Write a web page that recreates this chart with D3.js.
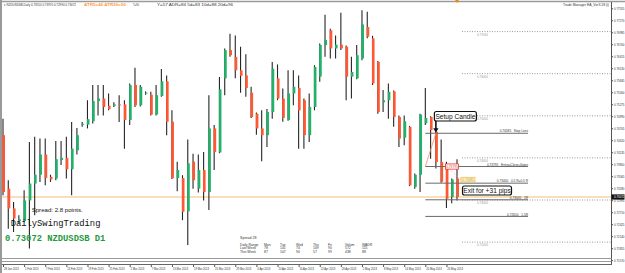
<!DOCTYPE html>
<html>
<head>
<meta charset="utf-8">
<script src="https://cdn.jsdelivr.net/npm/d3@7/dist/d3.min.js"></script>
<style>
  body { margin: 0; background: #fff; }
  svg { display: block; font-family: "Liberation Sans", Arial, sans-serif; }
</style>
</head>
<body>
<div id="chart"></div>
<script>
// daily candles, NZDUSDSB D1
var opens = [0.7454,0.7327,0.7280,0.7250,0.7250,0.7299,0.7339,0.7360,0.7408,0.7355,
             0.7351,0.7395,0.7400,0.7373,0.7418,0.7479,0.7479,0.7487,0.7535,0.7541,
             0.7524,0.7524,0.7527,0.7527,0.7490,0.7573,0.7525,0.7553,0.7550,0.7503,
             0.7547,0.7582,0.7486,0.7352,0.7352,0.7273,0.7391,0.7327,0.7371,0.7319,
             0.7470,0.7413,0.7589,0.7656,0.7640,0.7608,0.7596,0.7555,0.7505,0.7470,
             0.7454,0.7509,0.7589,0.7541,0.7490,0.7553,0.7566,0.7537,0.7454,0.7521,
             0.7593,0.7668,0.7703,0.7660,0.7669,0.7664,0.7593,0.7589,0.7636,0.7711,
             0.7684,0.7628,0.7532,0.7537,0.7558,0.7497,0.7448,0.7474,0.7331,0.7360,
             0.7482,0.7497,0.7462,0.7390,0.7375,0.7307,0.7351];
var highs = [0.7493,0.7347,0.7295,0.7264,0.7323,0.7438,0.7450,0.7446,0.7446,0.7360,
             0.7440,0.7440,0.7450,0.7485,0.7471,0.7485,0.7537,0.7573,0.7573,0.7573,
             0.7553,0.7532,0.7549,0.7537,0.7577,0.7614,0.7573,0.7558,0.7557,0.7573,
             0.7611,0.7596,0.7513,0.7391,0.7359,0.7444,0.7410,0.7408,0.7414,0.7549,
             0.7478,0.7592,0.7660,0.7695,0.7691,0.7664,0.7646,0.7569,0.7508,0.7513,
             0.7516,0.7628,0.7622,0.7565,0.7608,0.7608,0.7596,0.7541,0.7553,0.7620,
             0.7672,0.7740,0.7707,0.7691,0.7745,0.7667,0.7640,0.7668,0.7751,0.7747,
             0.7690,0.7630,0.7561,0.7577,0.7560,0.7501,0.7501,0.7476,0.7363,0.7505,
             0.7566,0.7499,0.7470,0.7444,0.7391,0.7351,0.7397];
var lows  = [0.7311,0.7232,0.7224,0.7244,0.7248,0.7185,0.7264,0.7343,0.7335,0.7343,
             0.7347,0.7383,0.7351,0.7311,0.7408,0.7474,0.7470,0.7482,0.7501,0.7501,
             0.7513,0.7521,0.7485,0.7422,0.7478,0.7521,0.7522,0.7550,0.7501,0.7501,
             0.7545,0.7454,0.7350,0.7321,0.7252,0.7193,0.7327,0.7318,0.7299,0.7276,
             0.7371,0.7411,0.7549,0.7640,0.7589,0.7555,0.7545,0.7495,0.7455,0.7392,
             0.7426,0.7493,0.7537,0.7486,0.7488,0.7525,0.7422,0.7422,0.7438,0.7513,
             0.7581,0.7640,0.7636,0.7636,0.7656,0.7537,0.7541,0.7587,0.7632,0.7684,
             0.7573,0.7505,0.7509,0.7493,0.7474,0.7426,0.7430,0.7333,0.7327,0.7319,
             0.7478,0.7398,0.7375,0.7341,0.7281,0.7292,0.7299];
var closes = [0.7319,0.7280,0.7256,0.7254,0.7299,0.7339,0.7360,0.7408,0.7352,0.7349,
              0.7397,0.7400,0.7373,0.7422,0.7454,0.7481,0.7492,0.7535,0.7541,0.7521,
              0.7516,0.7527,0.7525,0.7490,0.7573,0.7525,0.7569,0.7555,0.7503,0.7549,
              0.7582,0.7486,0.7352,0.7371,0.7272,0.7387,0.7347,0.7371,0.7319,0.7470,
              0.7414,0.7563,0.7656,0.7644,0.7608,0.7595,0.7566,0.7497,0.7470,0.7454,
              0.7509,0.7612,0.7541,0.7495,0.7553,0.7569,0.7513,0.7454,0.7521,0.7616,
              0.7668,0.7680,0.7660,0.7669,0.7660,0.7593,0.7604,0.7644,0.7717,0.7688,
              0.7577,0.7509,0.7537,0.7557,0.7497,0.7446,0.7487,0.7335,0.7360,0.7503,
              0.7495,0.7466,0.7390,0.7343,0.7303,0.7349,0.73072];

// one label every 4 bars
var dateLabels = ["28 Jan 2013","1 Feb 2013","7 Feb 2013","13 Feb 2013","19 Feb 2013","25 Feb 2013",
                  "1 Mar 2013","7 Mar 2013","13 Mar 2013","19 Mar 2013","25 Mar 2013","29 Mar 2013",
                  "4 Apr 2013","10 Apr 2013","16 Apr 2013","22 Apr 2013","26 Apr 2013","2 May 2013",
                  "8 May 2013","14 May 2013","20 May 2013","24 May 2013"];
var priceTicks = [0.71570,0.71855,0.72140,0.72425,0.72710,0.72995,0.73280,0.73565,0.73850,0.74135,
                  0.74420,0.74705,0.74990,0.75275,0.75560,0.75845,0.76130,0.76415,0.76700,0.76985,
                  0.77270,0.77555];

var lastPrice = 0.73072;
var roundLevels = [0.72, 0.73, 0.74, 0.75, 0.76, 0.77];
var tradeLevels = [0.74585, 0.73795, 0.73400, 0.73005, 0.72610];
var tradeNames = ["Stop Loss", "Entry=Close+6pips", "0.5 R=0.5 R", "1R", "1.5R"];
var exitPrice = 0.73485;
var setupBar = 82;

var tableHead = ["Daily Range","Mon","Tue","Wed","Thu","Fri","Volum","WADR"];
var lastWeek = ["Last Week","78","141","74","109","90","572","115"];
var thisWeek = ["This Week","87","107","90","57","99","438","88"];

var width = 625, height = 273;
var bull = "#22b16a", bear = "#ff5733";

var svg = d3.select("#chart").append("svg")
    .attr("width", width)
    .attr("height", height);

var x = d3.scaleLinear().domain([0, closes.length - 1]).range([3, 457]);
var y = d3.scaleLinear().domain([0.73, 0.77]).range([200, 31.6]);

// frame
svg.append("line").attr("x1", 0).attr("x2", width).attr("y1", 1.5).attr("y2", 1.5)
    .attr("stroke", "#9a9a9a").attr("stroke-width", 1.5);
svg.append("line").attr("x1", 1).attr("x2", 1).attr("y1", 0).attr("y2", height)
    .attr("stroke", "#9a9a9a").attr("stroke-width", 2);
svg.append("line").attr("x1", 611.5).attr("x2", 611.5).attr("y1", 2).attr("y2", 265)
    .attr("stroke", "#555");
[258.5, 261.5, 264.5].forEach(function(v, i) {
    svg.append("line").attr("x1", 2).attr("x2", 611.5).attr("y1", v).attr("y2", v)
        .attr("stroke", i == 2 ? "#666" : "#9a9a9a").attr("stroke-width", 1.2);
});
svg.append("path").attr("d", "M" + (x(closes.length - 1) - 2) + ",0 h4 l-2,3 z")
    .attr("fill", "#f08a00");

// round number levels
var lev = svg.append("g");
lev.selectAll("line").data(roundLevels).enter().append("line")
    .attr("x1", 462).attr("x2", 611)
    .attr("y1", function(d) { return y(d); }).attr("y2", function(d) { return y(d); })
    .attr("stroke", "#9a9a9a").attr("stroke-dasharray", "1,1.5");
lev.selectAll("text").data(roundLevels).enter().append("text")
    .attr("x", 477).attr("y", function(d) { return y(d) + 4; })
    .attr("font-size", 3).attr("fill", "#999")
    .text(function(d) { return d3.format(".5f")(d); });

// current price line
svg.append("line").attr("x1", 2).attr("x2", 611)
    .attr("y1", y(lastPrice)).attr("y2", y(lastPrice))
    .attr("stroke", "#f7bd78").attr("stroke-width", 1);

// candles
var candles = svg.append("g").selectAll("g").data(closes).enter().append("g");
candles.append("line")
    .attr("x1", function(d, i) { return x(i); })
    .attr("x2", function(d, i) { return x(i); })
    .attr("y1", function(d, i) { return y(highs[i]); })
    .attr("y2", function(d, i) { return y(lows[i]); })
    .attr("stroke", "#262626").attr("stroke-width", 1.1);
candles.append("rect")
    .attr("x", function(d, i) { return x(i) - 0.6; })
    .attr("width", 2.6)
    .attr("y", function(d, i) { return y(Math.max(opens[i], d)); })
    .attr("height", function(d, i) { return Math.max(1, Math.abs(y(opens[i]) - y(d))); })
    .attr("fill", function(d, i) { return d >= opens[i] ? bull : bear; });

// trade manager lines
var tm = svg.append("g");
var tmX1 = x(80), tmX2 = 528;
tm.selectAll("line").data(tradeLevels).enter().append("line")
    .attr("x1", tmX1).attr("x2", tmX2)
    .attr("y1", function(d) { return y(d); }).attr("y2", function(d) { return y(d); })
    .attr("stroke", "#6a6a6a").attr("stroke-width", 1);
tm.selectAll("text").data(tradeLevels).enter().append("text")
    .attr("x", tmX2).attr("y", function(d) { return y(d) - 0.8; })
    .attr("text-anchor", "end").attr("font-size", 3.2).attr("fill", "#333")
    .attr("xml:space", "preserve")
    .text(function(d, i) { return d3.format(".5f")(d) + "   " + tradeNames[i]; });

// diagonal from entry to setup candle
svg.append("line")
    .attr("x1", x(80)).attr("y1", y(tradeLevels[1]))
    .attr("x2", x(setupBar)).attr("y2", y(tradeLevels[0]))
    .attr("stroke", "#f58a6a").attr("stroke-width", 0.8);
svg.append("line")
    .attr("x1", x(84) + 3).attr("y1", y(tradeLevels[1]) + 3)
    .attr("x2", x(86) + 4).attr("y2", y(exitPrice))
    .attr("stroke", "#f5a0a0").attr("stroke-width", 0.7).attr("stroke-dasharray", "1,1");

// entry / exit price tags
svg.append("rect").attr("x", x(84) - 1).attr("y", y(tradeLevels[1]) - 2.6)
    .attr("width", 13).attr("height", 5.2)
    .attr("fill", "#fff").attr("stroke", "#e8332a").attr("stroke-width", 0.8);
svg.append("text").attr("x", x(84) + 5.5).attr("y", y(tradeLevels[1]) + 1.2)
    .attr("text-anchor", "middle").attr("font-size", 3.2).attr("fill", "#e8332a")
    .text(d3.format(".5f")(tradeLevels[1]));
svg.append("rect").attr("x", x(86) + 4).attr("y", y(exitPrice) - 2.3)
    .attr("width", 14).attr("height", 4.6)
    .attr("fill", "#fff6d0").attr("stroke", "#e8b64a").attr("stroke-width", 0.7);
svg.append("text").attr("x", x(86) + 11).attr("y", y(exitPrice) + 1.2)
    .attr("text-anchor", "middle").attr("font-size", 3.2).attr("fill", "#c8962a")
    .text(d3.format(".5f")(exitPrice));

// callouts
function callout(x0, y0, w, h, label) {
    svg.append("rect").attr("x", x0).attr("y", y0).attr("width", w).attr("height", h)
        .attr("rx", 2).attr("fill", "#fff").attr("stroke", "#111").attr("stroke-width", 1.2);
    svg.append("text").attr("x", x0 + w / 2).attr("y", y0 + h / 2 + 2.3)
        .attr("text-anchor", "middle").attr("font-size", 6.6).attr("fill", "#111")
        .text(label);
}
var sx = x(setupBar);
svg.append("line").attr("x1", sx).attr("x2", sx).attr("y1", 121).attr("y2", y(tradeLevels[0]) - 4)
    .attr("stroke", "#111").attr("stroke-width", 1.6);
svg.append("path")
    .attr("d", "M" + (sx - 2.6) + "," + (y(tradeLevels[0]) - 5) + " h5.2 l-2.6,4.5 z")
    .attr("fill", "#111");
callout(sx - 1.5, 111.5, 42, 9.5, "Setup Candle");
callout(x(86) + 5.5, 186, 49, 9, "Exit for +31 pips");

// axes
var yAxis = svg.append("g").attr("transform", "translate(611.5,0)")
    .call(d3.axisRight(y).tickValues(priceTicks).tickSize(1.5).tickFormat(d3.format(".5f")));
yAxis.select(".domain").remove();
yAxis.selectAll("text").attr("font-size", 2.9).attr("fill", "#333").attr("x", 2.5)
    .attr("font-family", "Liberation Sans, Arial");
yAxis.selectAll("line").attr("stroke", "#555");

svg.append("rect").attr("x", 611.5).attr("y", y(lastPrice) - 2.6)
    .attr("width", 13).attr("height", 5.2).attr("fill", "#111");
svg.append("text").attr("x", 614).attr("y", y(lastPrice) + 1.1)
    .attr("font-size", 2.9).attr("fill", "#fff").text(d3.format(".5f")(lastPrice));

var xAxis = svg.append("g").attr("transform", "translate(0,265)")
    .call(d3.axisBottom(x).tickValues(d3.range(0, closes.length - 2, 4))
        .tickSize(2).tickFormat(function(d) { return dateLabels[d / 4]; }));
xAxis.select(".domain").remove();
xAxis.selectAll("line").attr("stroke", "#555");
xAxis.selectAll("text").attr("font-size", 2.7).attr("fill", "#333")
    .attr("text-anchor", "start").attr("dx", "0.4").attr("y", 3)
    .attr("font-family", "Liberation Sans, Arial");

// header texts
function txt(x0, y0, s, size, col, len, extra) {
    var t = svg.append("text").attr("x", x0).attr("y", y0).attr("font-size", size)
        .attr("fill", col).text(s);
    if (len) t.attr("textLength", len).attr("lengthAdjust", "spacingAndGlyphs");
    if (extra) t.attr("font-weight", extra);
    return t;
}
txt(4, 5.6, "\u25BE NZDUSDSB,Daily  0.73510 0.73970 0.72990 0.73072", 3.4, "#333", 72);
txt(84, 5.8, "ATR5=46  ATR20=56", 4.4, "#ff9a3c", 42, "bold");
txt(133, 5.6, "T=90", 3.6, "#333", 6);
txt(157, 5.6, "Y=57  ADR=84  5d=83  10d=88  20d=96", 3.6, "#333", 76);
txt(563, 6, "Trade Manager EA_Ver3.18 (i)", 3.3, "#333", 46);

// bottom-left labels
txt(31.7, 212.3, "Spread: 2.8 points.", 5, "#111", 51);
svg.append("text").attr("x", 10.7).attr("y", 225.6).attr("font-size", 8.8)
    .attr("font-family", "Liberation Mono, DejaVu Sans Mono, monospace")
    .attr("fill", "#111").text("DailySwingTrading");
svg.append("text").attr("x", 5).attr("y", 240.6).attr("font-size", 8.8)
    .attr("font-family", "Liberation Mono, DejaVu Sans Mono, monospace")
    .attr("font-weight", "bold").attr("fill", "#1f9a3f").text(lastPrice.toFixed(5) + " NZDUSDSB D1");

// weekly range table
var colX = [240, 264, 280, 296, 313, 328, 345, 362];
txt(240, 239.3, "Spread 28", 3.6, "#333");
[tableHead, lastWeek, thisWeek].forEach(function(row, r) {
    row.forEach(function(c, j) {
        txt(colX[j], 245.6 + r * 3.7, c, 3.4, "#333");
    });
});
</script>
</body>
</html>
